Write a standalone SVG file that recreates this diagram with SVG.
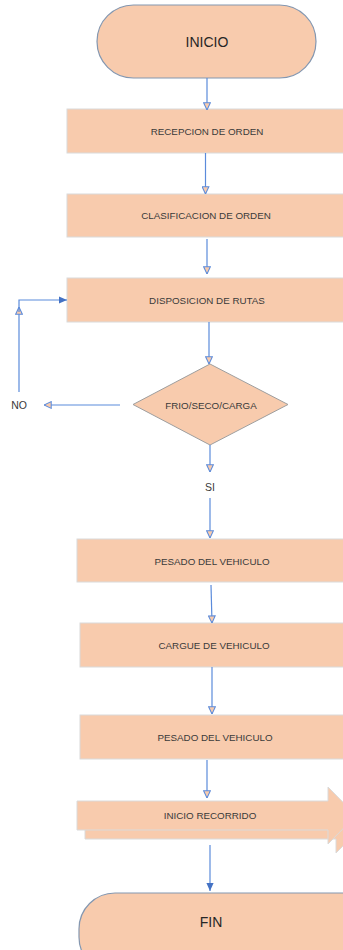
<svg xmlns="http://www.w3.org/2000/svg" width="343" height="950" viewBox="0 0 343 950">
<style>
.box{fill:#F8CBAD;stroke:#DADADA;stroke-width:1}
.term{fill:#F8CBAD;stroke:#8497B0;stroke-width:1.2}
.t{font-family:"Liberation Sans",Arial,sans-serif;font-size:9.8px;fill:#3A3A3A;text-anchor:middle;dominant-baseline:central}
.l{font-family:"Liberation Sans",Arial,sans-serif;font-size:10.5px;fill:#3A3A3A;text-anchor:middle;dominant-baseline:central}
.tb{font-family:"Liberation Sans",Arial,sans-serif;font-size:14px;fill:#262626;text-anchor:middle;dominant-baseline:central}
.c{fill:none;stroke:#5B8BDB;stroke-width:1.2}
</style>
<defs>
<marker id="open" markerUnits="userSpaceOnUse" markerWidth="8" markerHeight="8" viewBox="0 0 10 10" refX="9.5" refY="5" orient="auto">
<path d="M0.5,0.8 L9.5,5 L0.5,9.2 z" fill="#F8CBAD" stroke="#5B8BDB" stroke-width="1.3"/>
</marker>
<marker id="fill" markerUnits="userSpaceOnUse" markerWidth="8" markerHeight="8" viewBox="0 0 10 10" refX="10" refY="5" orient="auto">
<path d="M0,0.5 L10,5 L0,9.5 z" fill="#4472C4"/>
</marker>
</defs>
<g id="inicio">
<rect class="term" x="97" y="5" width="219" height="73" rx="36.5"/>
<text class="tb" x="207" y="42">INICIO</text>
</g>
<g id="recepcion">
<rect class="box" x="67" y="109" width="280" height="44"/>
<text class="t" x="207" y="131">RECEPCION DE ORDEN</text>
</g>
<g id="clasificacion">
<rect class="box" x="67" y="194" width="280" height="43"/>
<text class="t" x="206" y="215">CLASIFICACION DE ORDEN</text>
</g>
<g id="disposicion">
<rect class="box" x="67" y="278" width="280" height="44"/>
<text class="t" x="207" y="300">DISPOSICION DE RUTAS</text>
</g>
<g id="decision">
<polygon class="box" points="210,364 288,404.5 210,445 133,404.5" style="stroke:#9E9E9E"/>
<text class="t" x="211" y="405">FRIO/SECO/CARGA</text>
</g>
<g id="pesado1">
<rect class="box" x="77" y="539" width="270" height="43"/>
<text class="t" x="212" y="561">PESADO DEL VEHICULO</text>
</g>
<g id="cargue">
<rect class="box" x="80" y="623" width="267" height="44"/>
<text class="t" x="214" y="645">CARGUE DE VEHICULO</text>
</g>
<g id="pesado2">
<rect class="box" x="80" y="715" width="267" height="44"/>
<text class="t" x="215" y="737">PESADO DEL VEHICULO</text>
</g>
<g id="recorrido">
<polygon class="box" points="85,810 336,810 336,796 364,824.5 336,853 336,839 85,839"/>
<polygon class="box" points="77,801 328,801 328,787 356,815.5 328,844 328,830 77,830"/>
<text class="t" x="210" y="815">INICIO RECORRIDO</text>
</g>
<g id="fin">
<rect class="term" x="79" y="893" width="320" height="80" rx="36"/>
<text class="tb" x="211" y="922">FIN</text>
</g>
<g id="labels">
<text class="l" x="19" y="405">NO</text>
<text class="l" x="210" y="487">SI</text>
</g>
<g id="connectors">
<path class="c" d="M207,78 L207,110" marker-end="url(#open)"/>
<path class="c" d="M205.5,153 L205.5,194" marker-end="url(#open)"/>
<path class="c" d="M207,239 L207,274" marker-end="url(#open)"/>
<path class="c" d="M209,322 L209,364" marker-end="url(#open)"/>
<path class="c" d="M120,405 L44,405" marker-end="url(#open)"/>
<path class="c" d="M19,392 L19,307" marker-end="url(#open)"/>
<path class="c" d="M19,312 L19,300 L67,300" marker-end="url(#fill)"/>
<path class="c" d="M210,445 L210,472" marker-end="url(#open)"/>
<path class="c" d="M210,498 L210,538" marker-end="url(#open)"/>
<path class="c" d="M211,585 L212,623" marker-end="url(#open)"/>
<path class="c" d="M212,667 L212,714" marker-end="url(#open)"/>
<path class="c" d="M207,760 L207,798" marker-end="url(#open)"/>
<path class="c" d="M210,845 L210,891" marker-end="url(#fill)"/>
</g>
</svg>
